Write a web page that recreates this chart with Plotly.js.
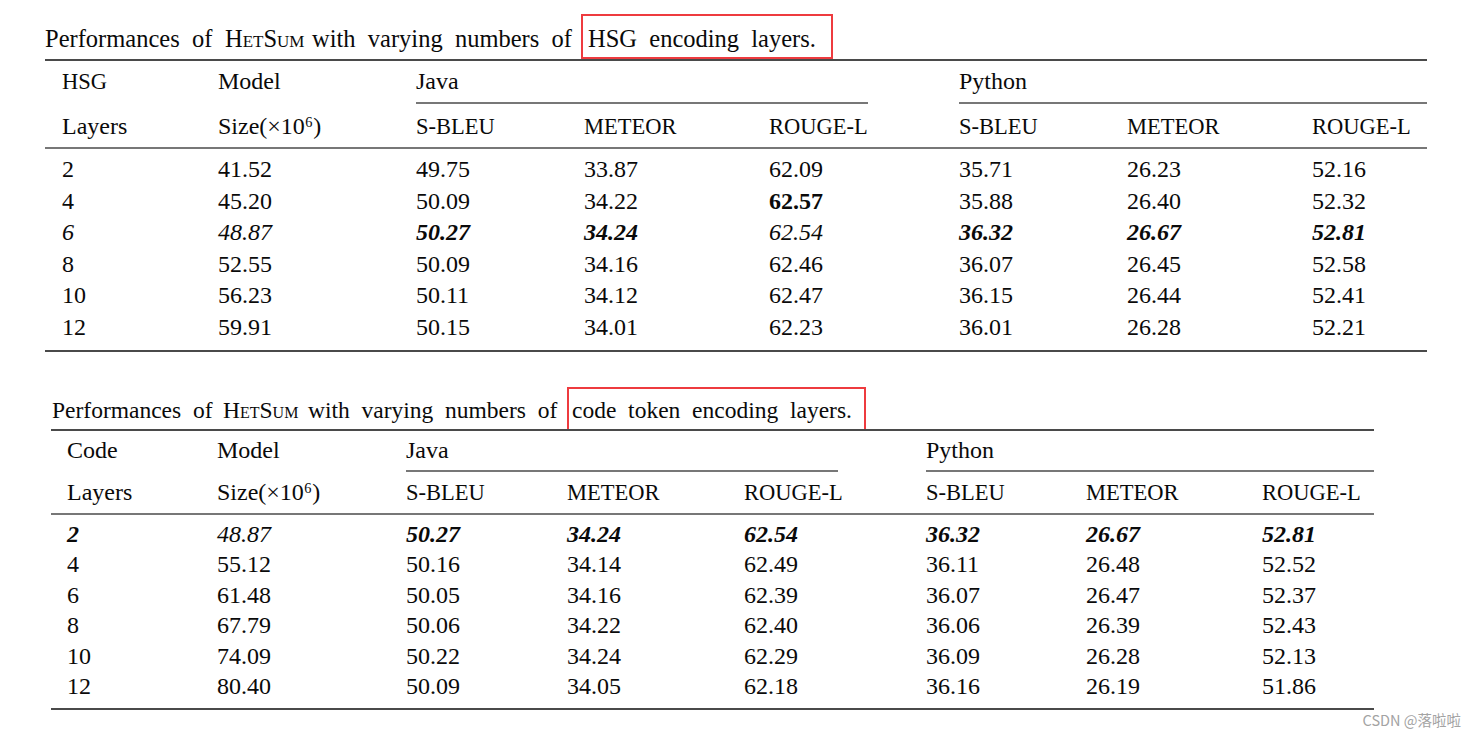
<!DOCTYPE html>
<html><head><meta charset="utf-8">
<script src="https://cdn.plot.ly/plotly-3.0.1.min.js"></script>
<style>html,body{margin:0;padding:0;background:#fff}#chart{width:1475px;height:740px}</style>
</head><body><div id="chart"></div>
<script>
// ---------------- data ----------------
const metrics = ['S-BLEU', 'METEOR', 'ROUGE-L'];
const languages = ['Java', 'Python'];

const hsgLayers     = ['2', '4', '6', '8', '10', '12'];
const hsgModelSize  = ['41.52', '45.20', '48.87', '52.55', '56.23', '59.91'];
const hsgJavaSBLEU  = ['49.75', '50.09', '50.27', '50.09', '50.11', '50.15'];
const hsgJavaMETEOR = ['33.87', '34.22', '34.24', '34.16', '34.12', '34.01'];
const hsgJavaROUGE  = ['62.09', '62.57', '62.54', '62.46', '62.47', '62.23'];
const hsgPySBLEU    = ['35.71', '35.88', '36.32', '36.07', '36.15', '36.01'];
const hsgPyMETEOR   = ['26.23', '26.40', '26.67', '26.45', '26.44', '26.28'];
const hsgPyROUGE    = ['52.16', '52.32', '52.81', '52.58', '52.41', '52.21'];

const codeLayers     = ['2', '4', '6', '8', '10', '12'];
const codeModelSize  = ['48.87', '55.12', '61.48', '67.79', '74.09', '80.40'];
const codeJavaSBLEU  = ['50.27', '50.16', '50.05', '50.06', '50.22', '50.09'];
const codeJavaMETEOR = ['34.24', '34.14', '34.16', '34.22', '34.24', '34.05'];
const codeJavaROUGE  = ['62.54', '62.49', '62.39', '62.40', '62.29', '62.18'];
const codePySBLEU    = ['36.32', '36.11', '36.07', '36.06', '36.09', '36.16'];
const codePyMETEOR   = ['26.67', '26.48', '26.47', '26.39', '26.28', '26.19'];
const codePyROUGE    = ['52.81', '52.52', '52.37', '52.43', '52.13', '51.86'];

// caption pieces: [before model name], [model name, small caps], [after model name]
const captionPre  = ['Performances', 'of'];
const modelName   = 'HetSum';
const captionPost = ['with', 'varying', 'numbers', 'of'];
const hsgCaptionTail  = ['HSG', 'encoding', 'layers.'];
const codeCaptionTail = ['code', 'token', 'encoding', 'layers.'];

const headerLayers = 'Layers';
const headerModel = 'Model';
const headerSize = 'Size(×10⁶)';

// emphasis: [row, column, style]  (column 0 = layers, 1 = size, 2..7 = metrics)
const hsgEmphasis = [[1,4,'b'],[2,0,'i'],[2,1,'i'],[2,2,'bi'],[2,3,'bi'],[2,4,'i'],[2,5,'bi'],[2,6,'bi'],[2,7,'bi']];
const codeEmphasis = [[0,0,'bi'],[0,1,'i'],[0,2,'bi'],[0,3,'bi'],[0,4,'bi'],[0,5,'bi'],[0,6,'bi'],[0,7,'bi']];

// ---------------- layout geometry / styles ----------------
const SERIF = 'Liberation Serif, Times New Roman, serif';
const FS = 24;        // body text
const CAPS_FS = 22.5; // all-caps headers
const INK = '#0a0a0a';
const RULE = '#4a4a4a';
const NB = '\u00a0';

const T1 = {
  captionY: 41, capFS: 24.5, capX: [45, 225, 312, 588], gap: NB + NB,
  box: [582, 15, 832, 58],
  left: 45, right: 1427, top: 60, h1: 83, cmid: 103, h2: 128, mid: 148,
  row0: 171, rowStep: 31.6, bottom: 351,
  cols: [62, 218, 416, 584, 769, 959, 1127, 1312],
  java: [416, 868], py: [959, 1427], head: 'HSG'
};
const T2 = {
  captionY: 412, capFS: 23.5, capX: [52, 223, 308, 572], gap: NB + NB,
  box: [568, 388, 865, 430],
  left: 51, right: 1374, top: 430, h1: 452, cmid: 471, h2: 494, mid: 514,
  row0: 536, rowStep: 30.4, bottom: 709,
  cols: [67, 217, 406, 567, 744, 926, 1086, 1262],
  java: [406, 838], py: [926, 1374], head: 'Code'
};

const traces = [];
const shapes = [];

function textTrace(xs, ys, texts, opts) {
  opts = opts || {};
  const font = { family: opts.family || SERIF, size: opts.size || FS, color: opts.color || INK };
  if (opts.variant) font.variant = opts.variant;
  traces.push({
    type: 'scatter', mode: 'text', x: xs, y: ys, text: texts,
    textposition: opts.pos || 'middle right',
    textfont: font,
    hoverinfo: 'skip', showlegend: false, cliponaxis: false
  });
}
function hline(x0, x1, y, w) {
  shapes.push({ type: 'line', xref: 'x', yref: 'y', x0: x0, x1: x1, y0: y, y1: y,
    line: { color: RULE, width: w } });
}
function styled(t, s) {
  if (s === 'bi') return '<b><i>' + t + '</i></b>';
  if (s === 'b') return '<b>' + t + '</b>';
  if (s === 'i') return '<i>' + t + '</i>';
  return t;
}
const isCaps = s => /^[A-Z\-]+$/.test(s);

function buildTable(T, columns, emphasis, tail) {
  const y = T.captionY;
  textTrace([T.capX[0]], [y], [captionPre.join(T.gap)], { size: T.capFS });
  textTrace([T.capX[1]], [y], [modelName], { size: T.capFS, variant: 'small-caps' });
  textTrace([T.capX[2]], [y], [captionPost.join(T.gap)], { size: T.capFS });
  textTrace([T.capX[3]], [y], [tail.join(T.gap)], { size: T.capFS });
  shapes.push({ type: 'rect', xref: 'x', yref: 'y', x0: T.box[0], x1: T.box[2], y0: T.box[1], y1: T.box[3],
    line: { color: '#ee3b3f', width: 2 }, fillcolor: 'rgba(0,0,0,0)' });

  // header rows
  const h1x = [T.cols[0], T.cols[1], T.cols[2], T.cols[5]];
  const h1t = [T.head, headerModel, languages[0], languages[1]];
  textTrace(h1x, h1x.map(() => T.h1), h1t);
  traces[traces.length - 1].textfont.size = h1t.map(t => isCaps(t) ? CAPS_FS : FS);
  const h2t = [headerLayers, headerSize].concat(metrics, metrics);
  textTrace(T.cols, T.cols.map(() => T.h2), h2t);
  traces[traces.length - 1].textfont.size = h2t.map(t => isCaps(t) ? CAPS_FS : FS);

  // body
  columns.forEach((col, c) => {
    const ys = col.map((_, r) => T.row0 + r * T.rowStep);
    const txt = col.map((v, r) => {
      const e = emphasis.find(e => e[0] === r && e[1] === c);
      return styled(v, e ? e[2] : '');
    });
    textTrace(col.map(() => T.cols[c]), ys, txt);
  });

  hline(T.left, T.right, T.top, 2.2);
  hline(T.java[0], T.java[1], T.cmid, 1.6);
  hline(T.py[0], T.py[1], T.cmid, 1.6);
  hline(T.left, T.right, T.mid, 1.6);
  hline(T.left, T.right, T.bottom, 2.2);
}

buildTable(T1, [hsgLayers, hsgModelSize, hsgJavaSBLEU, hsgJavaMETEOR, hsgJavaROUGE, hsgPySBLEU, hsgPyMETEOR, hsgPyROUGE], hsgEmphasis, hsgCaptionTail);
buildTable(T2, [codeLayers, codeModelSize, codeJavaSBLEU, codeJavaMETEOR, codeJavaROUGE, codePySBLEU, codePyMETEOR, codePyROUGE], codeEmphasis, codeCaptionTail);

// watermark
textTrace([1461], [722], ['CSDN @落啦啦'], { pos: 'middle left', family: 'Noto Sans CJK SC, sans-serif', size: 14.5, color: '#a3a3a3' });

const layout = {
  width: 1475, height: 740,
  margin: { l: 0, r: 0, t: 0, b: 0, pad: 0 },
  paper_bgcolor: '#ffffff', plot_bgcolor: '#ffffff',
  xaxis: { range: [0, 1475], visible: false, fixedrange: true },
  yaxis: { range: [740, 0], visible: false, fixedrange: true },
  shapes: shapes, showlegend: false, hovermode: false
};
Plotly.newPlot('chart', traces, layout, { displayModeBar: false, staticPlot: true });
</script>
</body></html>
